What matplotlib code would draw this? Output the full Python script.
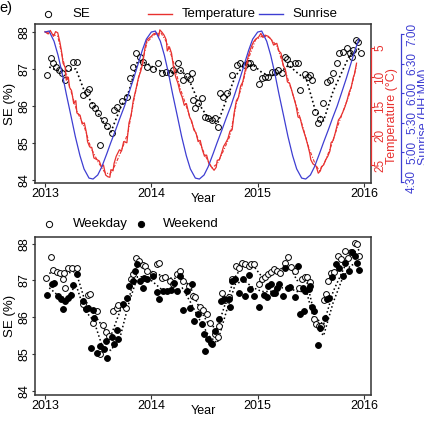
import matplotlib
matplotlib.use("Agg")
import matplotlib.pyplot as plt
from matplotlib.lines import Line2D
import matplotlib.transforms as mtransforms

plt.rcParams['font.family'] = ['Liberation Sans', 'DejaVu Sans']

# ---------------- data: top panel ----------------
se_year = [2013.016, 2013.054, 2013.078, 2013.103, 2013.135, 2013.157, 2013.188, 2013.219, 2013.261, 2013.304,
           2013.360, 2013.392, 2013.417, 2013.439, 2013.470, 2013.501, 2013.517, 2013.555, 2013.586, 2013.627,
           2013.652, 2013.680, 2013.722, 2013.769, 2013.800, 2013.825, 2013.856, 2013.894, 2013.925, 2013.957,
           2014.019, 2014.066, 2014.098, 2014.138, 2014.176, 2014.207, 2014.254, 2014.270, 2014.300, 2014.333,
           2014.364, 2014.380, 2014.395, 2014.411, 2014.442, 2014.474, 2014.505, 2014.536, 2014.568, 2014.599,
           2014.630, 2014.646, 2014.677, 2014.715, 2014.756, 2014.803, 2014.834, 2014.881, 2014.913, 2014.928,
           2014.960, 2015.010, 2015.039, 2015.070, 2015.100, 2015.133, 2015.164, 2015.195, 2015.227, 2015.258,
           2015.280, 2015.305, 2015.352, 2015.383, 2015.399, 2015.446, 2015.477, 2015.493, 2015.509, 2015.540,
           2015.571, 2015.587, 2015.618, 2015.650, 2015.681, 2015.712, 2015.750, 2015.769, 2015.806, 2015.838,
           2015.869, 2015.885, 2015.900, 2015.926, 2015.947, 2015.970]
se_val = [86.83, 87.28, 87.15, 87.06, 86.97, 86.90, 86.70, 87.01, 87.19, 87.19,
          86.29, 86.38, 86.45, 86.02, 85.94, 85.82, 84.95, 85.62, 85.46, 85.28,
          85.89, 85.96, 86.14, 86.25, 86.74, 87.06, 87.43, 87.33, 87.19, 87.06,
          86.99, 87.15, 86.88, 86.92, 86.88, 86.97, 87.15, 86.97, 86.70, 86.80,
          86.72, 86.88, 86.16, 85.94, 86.07, 86.20, 85.71, 85.67, 85.62, 85.67,
          85.44, 86.34, 86.25, 86.36, 86.83, 87.10, 87.15, 87.10, 87.15, 87.15,
          87.06, 86.58, 86.74, 86.77, 86.79, 86.92, 86.92, 86.97, 86.88, 87.33,
          87.26, 87.13, 87.15, 87.17, 86.43, 86.86, 86.79, 86.83, 86.71, 85.84,
          85.53, 85.64, 86.07, 86.65, 86.71, 86.88, 87.15, 87.42, 87.46, 87.55,
          87.42, 87.33, 87.51, 87.78, 87.73, 87.42]

trend_year = [2013.04, 2013.12, 2013.21, 2013.29, 2013.37, 2013.46, 2013.54, 2013.62, 2013.71, 2013.79, 2013.87, 2013.96,
              2014.04, 2014.12, 2014.21, 2014.29, 2014.37, 2014.46, 2014.54, 2014.62, 2014.71, 2014.79, 2014.87, 2014.96,
              2015.04, 2015.12, 2015.21, 2015.29, 2015.37, 2015.46, 2015.54, 2015.62, 2015.71, 2015.79, 2015.87, 2015.96]
se_trend = [87.05, 86.95, 86.95, 87.00, 86.40, 86.00, 85.60, 85.30, 85.95, 86.40, 87.20, 87.15,
            87.00, 86.90, 86.90, 86.95, 86.60, 86.00, 85.65, 85.50, 86.20, 86.80, 87.10, 87.10,
            86.90, 86.80, 86.90, 87.10, 86.90, 86.70, 85.90, 85.60, 86.40, 86.90, 87.40, 87.55]

temp_year = [2013.00, 2013.03, 2013.05, 2013.08, 2013.10, 2013.12, 2013.14, 2013.155, 2013.17, 2013.19,
             2013.20, 2013.22, 2013.23, 2013.25, 2013.27, 2013.29, 2013.30, 2013.33, 2013.35, 2013.37,
             2013.39, 2013.40, 2013.42, 2013.44, 2013.46, 2013.49, 2013.51, 2013.53, 2013.55, 2013.57,
             2013.59, 2013.61, 2013.62, 2013.64, 2013.65, 2013.67, 2013.70, 2013.72, 2013.74, 2013.77,
             2013.79, 2013.81, 2013.83, 2013.86, 2013.88, 2013.90, 2013.92, 2013.94, 2013.96, 2013.98,
             2014.00, 2014.02, 2014.05, 2014.07, 2014.08, 2014.10, 2014.12, 2014.14, 2014.15, 2014.17,
             2014.19, 2014.21, 2014.23, 2014.25, 2014.27, 2014.29, 2014.31, 2014.33, 2014.36, 2014.38,
             2014.40, 2014.42, 2014.44, 2014.46, 2014.48, 2014.50, 2014.52, 2014.54, 2014.56, 2014.59,
             2014.61, 2014.62, 2014.64, 2014.66, 2014.68, 2014.70, 2014.72, 2014.74, 2014.76, 2014.78,
             2014.80, 2014.82, 2014.84, 2014.86, 2014.89, 2014.91, 2014.94, 2014.96, 2014.98, 2015.01,
             2015.03, 2015.05, 2015.07, 2015.10, 2015.13, 2015.15, 2015.18, 2015.20, 2015.22, 2015.24,
             2015.26, 2015.28, 2015.30, 2015.32, 2015.34, 2015.36, 2015.38, 2015.40, 2015.42, 2015.45,
             2015.47, 2015.49, 2015.50, 2015.52, 2015.55, 2015.57, 2015.59, 2015.60, 2015.62, 2015.64,
             2015.66, 2015.68, 2015.69, 2015.71, 2015.73, 2015.76, 2015.78, 2015.80, 2015.82, 2015.84,
             2015.86, 2015.88, 2015.90, 2015.91, 2015.93]
temp_val = [2.2, 2.6, 2.0, 3.0, 2.2, 2.4, 4.0, 5.5, 7.6, 8.3,
            10.5, 10.0, 11.7, 12.3, 14.5, 14.0, 16.1, 16.5, 18.0, 17.8,
            19.5, 21.0, 21.9, 22.0, 23.8, 24.1, 24.3, 25.3, 25.0, 26.7,
            27.0, 27.1, 25.8, 26.0, 24.7, 23.5, 22.4, 22.6, 21.0, 21.2,
            17.8, 16.5, 14.0, 11.7, 10.0, 9.0, 7.6, 5.0, 3.6, 3.3,
            3.0, 2.6, 2.4, 3.0, 1.9, 2.3, 2.8, 3.6, 5.5, 4.8,
            5.9, 8.5, 10.0, 11.0, 12.5, 13.4, 14.8, 14.5, 16.8, 17.5,
            19.0, 19.5, 21.0, 20.8, 22.4, 23.5, 23.3, 24.7, 25.2, 25.9,
            25.4, 24.2, 24.1, 23.0, 21.8, 21.2, 20.5, 19.2, 19.0, 16.0,
            14.0, 13.4, 11.5, 10.8, 8.2, 6.5, 4.8, 4.0, 3.5, 3.1,
            2.5, 3.2, 2.8, 3.0, 3.6, 4.5, 4.2, 5.5, 5.9, 8.0,
            8.6, 10.8, 11.0, 12.2, 13.5, 14.8, 16.8, 17.0, 18.5, 20.2,
            21.5, 23.0, 24.1, 24.8, 25.2, 26.4, 26.0, 25.3, 25.0, 24.1,
            23.5, 22.6, 21.2, 20.8, 19.5, 17.3, 16.8, 16.0, 15.1, 14.0,
            12.6, 11.7, 10.0, 9.5, 7.6]

temp2_year = [2013.00, 2013.06, 2013.12, 2013.17, 2013.23, 2013.30, 2013.37, 2013.43, 2013.50, 2013.56,
              2013.61, 2013.66, 2013.72, 2013.78, 2013.84, 2013.90, 2013.96, 2014.03, 2014.09, 2014.15,
              2014.21, 2014.27, 2014.33, 2014.39, 2014.45, 2014.51, 2014.57, 2014.62, 2014.68, 2014.74,
              2014.80, 2014.86, 2014.92, 2014.98, 2015.05, 2015.11, 2015.18, 2015.24, 2015.30, 2015.36,
              2015.42, 2015.48, 2015.54, 2015.58, 2015.63, 2015.69, 2015.75, 2015.81, 2015.87, 2015.93]
temp2_val = [2.3, 2.6, 3.0, 7.0, 11.5, 15.8, 18.5, 22.0, 24.5, 26.2,
             26.6, 25.0, 22.5, 19.5, 13.5, 8.5, 4.0, 2.7, 2.4, 4.2,
             7.5, 11.8, 15.0, 18.3, 21.0, 23.5, 25.5, 24.8, 22.5, 20.0,
             14.5, 11.0, 6.5, 3.6, 2.9, 3.2, 4.6, 7.8, 11.2, 14.6,
             18.2, 22.0, 24.8, 26.0, 24.6, 21.8, 18.5, 15.5, 12.5, 8.0]

sun_year = [2013.000, 2013.038, 2013.085, 2013.123, 2013.162, 2013.200, 2013.247, 2013.285, 2013.329, 2013.367,
            2013.414, 2013.452, 2013.496, 2013.534, 2013.581, 2013.619, 2013.666, 2013.704, 2013.748, 2013.786,
            2013.833, 2013.871, 2013.915, 2013.953,
            2014.000, 2014.038, 2014.085, 2014.123, 2014.162, 2014.200, 2014.247, 2014.285, 2014.329, 2014.367,
            2014.414, 2014.452, 2014.496, 2014.534, 2014.581, 2014.619, 2014.666, 2014.704, 2014.748, 2014.786,
            2014.833, 2014.871, 2014.915, 2014.953,
            2015.000, 2015.038, 2015.085, 2015.123, 2015.162, 2015.200, 2015.247, 2015.285, 2015.329, 2015.367,
            2015.414, 2015.452, 2015.496, 2015.534, 2015.581, 2015.619, 2015.666, 2015.704, 2015.748, 2015.786,
            2015.833, 2015.871, 2015.915, 2015.953]
sun_hour = [7.033, 7.050, 6.878, 6.639, 6.331, 5.989, 5.594, 5.269, 4.944, 4.721,
            4.566, 4.550, 4.618, 4.755, 4.977, 5.166, 5.388, 5.577, 5.783, 5.989,
            6.245, 6.467, 6.724, 6.913,
            7.033, 7.050, 6.878, 6.639, 6.331, 5.989, 5.594, 5.269, 4.944, 4.721,
            4.566, 4.550, 4.618, 4.755, 4.977, 5.166, 5.388, 5.577, 5.783, 5.989,
            6.245, 6.467, 6.724, 6.913,
            7.033, 7.050, 6.878, 6.639, 6.331, 5.989, 5.594, 5.269, 4.944, 4.721,
            4.566, 4.550, 4.618, 4.755, 4.977, 5.166, 5.388, 5.577, 5.783, 5.989,
            6.245, 6.467, 6.724, 6.913]

year_ticks = [2013, 2014, 2015, 2016]
se_ticks = [84, 85, 86, 87, 88]
temp_ticks = [5, 10, 15, 20, 25]
sun_ticks = [4.5, 5.0, 5.5, 6.0, 6.5, 7.0]
sun_labels = ["4:30", "5:00", "5:30", "6:00", "6:30", "7:00"]

# ---------------- data: bottom panel ----------------
wd_year = [2013.009, 2013.054, 2013.078, 2013.110, 2013.141, 2013.167, 2013.182, 2013.188, 2013.219, 2013.251,
           2013.304, 2013.360, 2013.407, 2013.423, 2013.454, 2013.486, 2013.517, 2013.548, 2013.574, 2013.605,
           2013.643, 2013.675, 2013.690, 2013.762, 2013.806, 2013.831, 2013.856, 2013.887, 2013.919, 2013.941,
           2013.957, 2014.019, 2014.051, 2014.075, 2014.098, 2014.129, 2014.176, 2014.207, 2014.239, 2014.270,
           2014.301, 2014.357, 2014.389, 2014.411, 2014.458, 2014.489, 2014.521, 2014.550, 2014.596, 2014.627,
           2014.634, 2014.665, 2014.696, 2014.734, 2014.759, 2014.797, 2014.828, 2014.853, 2014.884, 2014.916,
           2014.941, 2014.963, 2015.010, 2015.041, 2015.067, 2015.098, 2015.129, 2015.151, 2015.183, 2015.214,
           2015.255, 2015.286, 2015.317, 2015.355, 2015.392, 2015.418, 2015.443, 2015.465, 2015.496, 2015.528,
           2015.549, 2015.575, 2015.600, 2015.622, 2015.643, 2015.662, 2015.693, 2015.716, 2015.756, 2015.787,
           2015.819, 2015.850, 2015.881, 2015.913, 2015.935, 2015.951]
wd_val = [87.08, 87.64, 87.28, 87.24, 87.21, 87.03, 87.20, 86.80, 87.33, 87.33,
          87.35, 86.37, 86.60, 86.62, 85.85, 86.17, 85.00, 85.79, 85.61, 85.49,
          86.17, 86.26, 86.33, 86.26, 87.03, 87.17, 87.60, 87.53, 87.42, 87.39,
          87.26, 87.17, 87.44, 87.48, 87.08, 87.10, 86.99, 86.91, 87.17, 87.25,
          86.98, 86.85, 86.58, 86.55, 86.29, 86.20, 86.09, 85.85, 85.54, 85.46,
          85.76, 86.67, 86.46, 86.55, 87.03, 87.39, 87.34, 87.48, 87.44, 87.39,
          87.46, 87.44, 86.90, 87.03, 87.10, 87.17, 87.23, 87.30, 87.27, 87.21,
          87.48, 87.64, 87.37, 87.26, 86.80, 87.03, 87.10, 87.10, 86.97, 85.95,
          85.81, 85.76, 85.76, 86.46, 86.62, 86.99, 87.21, 87.24, 87.67, 87.58,
          87.80, 87.62, 87.76, 88.03, 87.98, 87.67]

we_year = [2013.016, 2013.063, 2013.087, 2013.125, 2013.151, 2013.167, 2013.188, 2013.219, 2013.242, 2013.266,
           2013.298, 2013.355, 2013.386, 2013.407, 2013.430, 2013.449, 2013.464, 2013.486, 2013.517, 2013.555,
           2013.574, 2013.586, 2013.627, 2013.649, 2013.675, 2013.690, 2013.737, 2013.769, 2013.793, 2013.825,
           2013.847, 2013.868, 2013.894, 2013.919, 2013.931, 2013.957, 2014.019, 2014.051, 2014.075, 2014.107,
           2014.145, 2014.183, 2014.214, 2014.239, 2014.270, 2014.301, 2014.339, 2014.364, 2014.380, 2014.402,
           2014.442, 2014.474, 2014.496, 2014.505, 2014.536, 2014.559, 2014.571, 2014.602, 2014.640, 2014.659,
           2014.681, 2014.728, 2014.743, 2014.759, 2014.790, 2014.822, 2014.860, 2014.884, 2014.916, 2014.931,
           2014.963, 2015.016, 2015.057, 2015.088, 2015.098, 2015.129, 2015.145, 2015.167, 2015.183, 2015.204,
           2015.236, 2015.255, 2015.286, 2015.308, 2015.355, 2015.380, 2015.402, 2015.424, 2015.434, 2015.449,
           2015.481, 2015.496, 2015.512, 2015.533, 2015.568, 2015.590, 2015.631, 2015.653, 2015.675, 2015.700,
           2015.738, 2015.763, 2015.801, 2015.825, 2015.857, 2015.888, 2015.913, 2015.935, 2015.951]
we_val = [86.60, 86.90, 86.94, 86.58, 86.49, 86.22, 86.44, 86.52, 86.60, 86.88,
          87.18, 86.43, 86.22, 86.24, 85.17, 86.19, 85.99, 85.04, 85.22, 85.13,
          85.35, 84.90, 85.46, 85.28, 85.65, 85.40, 86.37, 86.53, 86.85, 86.99,
          87.26, 87.44, 86.99, 86.80, 87.08, 87.04, 87.13, 86.68, 86.49, 86.71,
          86.72, 86.75, 86.94, 86.72, 87.12, 86.19, 86.71, 86.26, 86.91, 85.90,
          86.08, 85.81, 85.55, 85.08, 85.40, 85.31, 85.28, 85.63, 85.95, 86.44,
          86.49, 86.49, 86.28, 86.99, 87.04, 86.67, 87.03, 86.58, 87.15, 86.76,
          86.58, 86.28, 86.60, 86.55, 86.85, 86.91, 86.67, 86.67, 86.80, 86.90,
          86.58, 87.35, 86.80, 86.82, 86.55, 87.39, 86.08, 86.80, 86.17, 86.71,
          86.76, 86.85, 86.28, 86.17, 85.25, 85.70, 85.99, 86.49, 86.52, 87.10,
          87.44, 87.35, 87.12, 87.48, 87.26, 87.76, 87.67, 87.48, 87.28]

wd_trend = [87.20, 87.20, 87.20, 87.25, 86.50, 86.10, 85.75, 85.50, 86.20, 86.50, 87.45, 87.30,
            87.20, 87.10, 87.05, 87.10, 86.80, 86.20, 85.80, 85.70, 86.50, 87.10, 87.45, 87.40,
            87.10, 87.15, 87.30, 87.45, 87.00, 87.00, 86.00, 85.80, 86.70, 87.20, 87.70, 87.85]
we_trend = [86.80, 86.60, 86.50, 86.90, 86.20, 85.90, 85.20, 85.10, 85.50, 86.40, 87.10, 87.10,
            86.90, 86.70, 86.70, 86.80, 86.40, 85.90, 85.50, 85.30, 86.20, 86.90, 87.00, 86.80,
            86.70, 86.70, 86.80, 86.80, 86.70, 86.70, 85.80, 85.50, 86.40, 87.00, 87.40, 87.50]

# ---------------- figure ----------------
W, H = 424, 422
fig = plt.figure(figsize=(W / 100, H / 100), dpi=100)
fig.patch.set_facecolor('white')

def px(x, y):
    return (x / W, 1 - y / H)

RED = '#e8312f'
BLUE = '#3e3ed2'
BOX = '#333333'
FS = 9

def style_main(ax, ylim):
    ax.set_xlim(2012.906, 2016.066)
    ax.set_ylim(*ylim)
    ax.set_xticks(year_ticks)
    ax.set_xticklabels([str(v) for v in year_ticks], fontsize=FS)
    ax.set_yticks(se_ticks)
    ax.set_yticklabels([str(v) for v in se_ticks], fontsize=FS, rotation=90, va='center')
    ax.tick_params(axis='x', length=3, width=0.8, pad=0.5, color=BOX)
    ax.tick_params(axis='y', length=2.5, width=0.8, pad=1, color=BOX)
    for s in ax.spines.values():
        s.set_color(BOX)
        s.set_linewidth(1.1)
    ax.set_facecolor('none')

# ---- top panel
ax1 = fig.add_axes([35 / W, 1 - 183 / H, 336 / W, 159 / H])
style_main(ax1, (83.92, 88.21))
ax1.plot(trend_year, se_trend, color='black', lw=1.2, ls=(0, (1, 1.6)), zorder=2)
ax1.plot(se_year, se_val, ls='none', marker='o', ms=4.2, mfc='none', mec='black', mew=0.7, zorder=3)
ax1.text(0.5, -(199 - 183) / 159, 'Year', transform=ax1.transAxes, ha='center', va='center', fontsize=FS)

axt = ax1.twinx()
axt.set_xlim(ax1.get_xlim())
axt.plot(temp_year, temp_val, color=RED, lw=0.9, zorder=3)
axt.plot(temp2_year, temp2_val, color=RED, lw=0.8, ls=(0, (3, 1.5, 1, 1.5)), zorder=3)
axt.set_ylim(28.077, 0.897)
axt.set_yticks(temp_ticks)
axt.tick_params(axis='y', colors=RED, length=2.5, width=0.8, labelright=False)
for k in ['left', 'top', 'bottom']:
    axt.spines[k].set_visible(False)
axt.spines['right'].set_color(RED)
axt.spines['right'].set_bounds(5, 25)
axt.spines['right'].set_linewidth(0.9)
axt.patch.set_visible(False)
tr_t = mtransforms.blended_transform_factory(fig.transFigure, axt.transData)
for v in temp_ticks:
    fig.text(380 / W, v, str(v), transform=tr_t, rotation=90, ha='center', va='center',
             fontsize=FS - 0.5, color=RED)

axs = ax1.twinx()
axs.set_xlim(ax1.get_xlim())
axs.plot(sun_year, sun_hour, color=BLUE, lw=0.9, zorder=3)
axs.set_ylim(4.483, 7.169)
axs.set_yticks(sun_ticks)
axs.tick_params(axis='y', colors=BLUE, length=2.5, width=0.8, labelright=False)
for k in ['left', 'top', 'bottom']:
    axs.spines[k].set_visible(False)
axs.spines['right'].set_position(('axes', (401 - 35) / 336))
axs.spines['right'].set_color(BLUE)
axs.spines['right'].set_bounds(4.5, 7.0)
axs.spines['right'].set_linewidth(0.9)
axs.patch.set_visible(False)
tr_s = mtransforms.blended_transform_factory(fig.transFigure, axs.transData)
for v, lab in zip(sun_ticks, sun_labels):
    fig.text(412 / W, v, lab, transform=tr_s, rotation=90, ha='center', va='center',
             fontsize=FS - 0.5, color=BLUE)

fig.text(*px(10, 104), 'SE (%)', rotation=90, ha='center', va='center', fontsize=FS + 0.5)
fig.text(*px(392.5, 116), 'Temperature (\u00b0C)', rotation=90, ha='center', va='center', fontsize=FS, color=RED)
fig.text(*px(424, 117), 'Sunrise (HH:MM)', rotation=90, ha='center', va='center', fontsize=FS, color=BLUE)
fig.text(*px(-1, 8), 'e)', ha='left', va='center', fontsize=FS + 1.5)

# top legend (drawn in figure coordinates)
ly = 14
fig.add_artist(Line2D([48 / W], [1 - ly / H], marker='o', ms=4.5, mfc='none', mec='black', mew=0.7,
                      ls='none', transform=fig.transFigure))
fig.text(*px(72, ly), 'SE', ha='left', va='center', fontsize=FS + 0.5)
fig.add_artist(Line2D([148 / W, 172 / W], [1 - ly / H] * 2, color=RED, lw=1.0, transform=fig.transFigure))
fig.text(*px(182, ly), 'Temperature', ha='left', va='center', fontsize=FS + 0.5)
fig.add_artist(Line2D([259 / W, 283 / W], [1 - ly / H] * 2, color=BLUE, lw=1.0, transform=fig.transFigure))
fig.text(*px(292, ly), 'Sunrise', ha='left', va='center', fontsize=FS + 0.5)

# ---- bottom panel
ax2 = fig.add_axes([35 / W, 1 - 395 / H, 336 / W, 158 / H])
style_main(ax2, (83.89, 88.18))
ax2.plot(trend_year, wd_trend, color='black', lw=1.1, ls=(0, (1, 1.6)), zorder=2)
ax2.plot(trend_year, we_trend, color='black', lw=1.1, ls=(0, (1, 1.6)), zorder=2)
ax2.plot(wd_year, wd_val, ls='none', marker='o', ms=4.2, mfc='white', mec='black', mew=0.7, zorder=3)
ax2.plot(we_year, we_val, ls='none', marker='o', ms=4.2, mfc='black', mec='black', mew=0.7, zorder=4)
ax2.text(0.5, -(411 - 395) / 158, 'Year', transform=ax2.transAxes, ha='center', va='center', fontsize=FS)
fig.text(*px(10, 316), 'SE (%)', rotation=90, ha='center', va='center', fontsize=FS + 0.5)

ly2 = 224
fig.add_artist(Line2D([49 / W], [1 - ly2 / H], marker='o', ms=4.5, mfc='none', mec='black', mew=0.7,
                      ls='none', transform=fig.transFigure))
fig.text(*px(73, ly2), 'Weekday', ha='left', va='center', fontsize=FS + 0.5)
fig.add_artist(Line2D([141 / W], [1 - ly2 / H], marker='o', ms=4.5, mfc='black', mec='black', mew=0.7,
                      ls='none', transform=fig.transFigure))
fig.text(*px(163, ly2), 'Weekend', ha='left', va='center', fontsize=FS + 0.5)

fig.savefig('out.png', dpi=100, facecolor='white')
